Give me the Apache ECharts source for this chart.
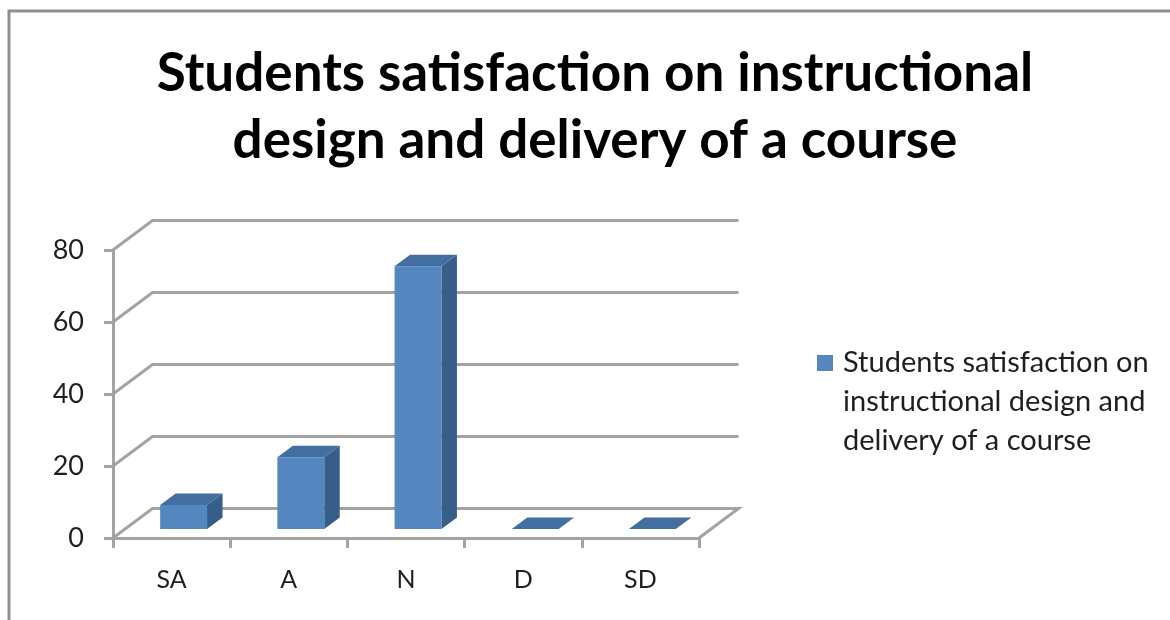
<!DOCTYPE html>
<html>
<head>
<meta charset="utf-8">
<style>html,body{margin:0;padding:0;background:#fff}#c{width:1170px;height:620px}</style>
<script src="https://cdn.jsdelivr.net/npm/echarts@6/dist/echarts.min.js"></script>
</head>
<body>
<div id="c"></div>
<script>
var categories = ['SA', 'A', 'N', 'D', 'SD'];
var values = [6.7, 19.9, 73, 0, 0];
var yTicks = [0, 20, 40, 60, 80];
var seriesName = 'Students satisfaction on instructional design and delivery of a course';
var legendLines = ['Students satisfaction on', 'instructional design and', 'delivery of a course'];
var titleLines = ['Students satisfaction on instructional', 'design and delivery of a course'];

var FONT = 'Lato';
var GRID_COLOR = '#a3a3a3';
var WALL_DX = 39.5, WALL_DY = -29.5;
var BAR_DX = 15.5, BAR_DY = -11.5, BAR_SHIFT_X = 12, BAR_SHIFT_Y = -9, BAR_RATIO = 0.4;

var chart = echarts.init(document.getElementById('c'), null, {renderer: 'canvas'});

function renderWall(params, api) {
  var v = api.value(1);
  var p = api.coord([0, v]);
  var band = api.size([1, 0])[0];
  var x0 = p[0] - band / 2, y = p[1];
  var x1 = x0 + band * categories.length;
  var style = {stroke: GRID_COLOR, lineWidth: 3, fill: null};
  var pts = [[x0, y], [x0 + WALL_DX, y + WALL_DY], [x1 + WALL_DX, y + WALL_DY]];
  if (v === 0) pts.push([x1, y]);
  return {type: 'polyline', shape: {points: pts}, style: style, silent: true};
}

function renderBar(params, api) {
  var i = api.value(0), v = api.value(1);
  var base = api.coord([i, 0]), top = api.coord([i, v]);
  var w = api.size([1, 0])[0] * BAR_RATIO;
  var l = base[0] + BAR_SHIFT_X - w / 2, r = l + w;
  var by = base[1] + BAR_SHIFT_Y, ty = top[1] + BAR_SHIFT_Y;
  return {
    type: 'group',
    children: [
      {type: 'polygon', shape: {points: [[r, ty], [r + BAR_DX, ty + BAR_DY], [r + BAR_DX, by + BAR_DY], [r, by]]},
        style: {fill: '#375e89'}},
      {type: 'polygon', shape: {points: [[l, ty], [l + BAR_DX, ty + BAR_DY], [r + BAR_DX, ty + BAR_DY], [r, ty]]},
        style: {fill: '#426f9f'}},
      {type: 'rect', shape: {x: l, y: ty, width: w, height: by - ty},
        style: {fill: '#5486c0'}}
    ]
  };
}

chart.setOption({
  animation: false,
  backgroundColor: '#ffffff',
  title: {
    text: titleLines.join('\n'),
    left: 590, top: 35, textAlign: 'center',
    textStyle: {fontFamily: FONT, fontWeight: 'bold', fontSize: 53, lineHeight: 67, color: '#000'}
  },
  legend: {
    data: [seriesName],
    left: 812, top: 338, orient: 'vertical',
    itemWidth: 16, itemHeight: 118, symbolKeepAspect: false,
    icon: 'path://M0 12H16V28H0Z M0 0H16V0H0Z M0 118H16V118H0Z',
    itemStyle: {color: '#5486c0'},
    formatter: function () { return legendLines.join('\n'); },
    textStyle: {fontFamily: FONT, fontSize: 29, lineHeight: 39, color: '#1f1f1f', padding: [0, 0, 0, 5]}
  },
  grid: {left: 113, top: 250, width: 586, height: 288, containLabel: false},
  xAxis: {
    type: 'category', data: categories, boundaryGap: true,
    axisLine: {onZero: false, lineStyle: {color: GRID_COLOR, width: 3}},
    axisTick: {show: true, alignWithLabel: false, length: 10, lineStyle: {color: GRID_COLOR, width: 3}},
    axisLabel: {fontFamily: FONT, fontSize: 25, color: '#1f1f1f', margin: 29},
    splitLine: {show: false}
  },
  yAxis: {
    type: 'value', min: 0, max: 80, interval: 20,
    axisLine: {show: true, lineStyle: {color: GRID_COLOR, width: 3}},
    axisTick: {show: true, length: 9, lineStyle: {color: GRID_COLOR, width: 3}},
    axisLabel: {fontFamily: FONT, fontSize: 27, color: '#1f1f1f', margin: 29, padding: [4, 0, 0, 0]},
    splitLine: {show: false}
  },
  graphic: [{
    type: 'polyline', z: 100, silent: true,
    shape: {points: [[9, 620], [9, 11], [1170, 11]]},
    style: {stroke: '#8f8f8f', lineWidth: 3, fill: null}
  }],
  series: [
    {
      name: 'walls', type: 'custom', coordinateSystem: 'cartesian2d', clip: false, silent: true, z: 1,
      renderItem: renderWall, encode: {x: 0, y: 1},
      data: yTicks.map(function (t) { return [0, t]; })
    },
    {
      name: seriesName, type: 'custom', coordinateSystem: 'cartesian2d', clip: false, z: 2,
      renderItem: renderBar, encode: {x: 0, y: 1},
      itemStyle: {color: '#5486c0'},
      data: values.map(function (v, i) { return [i, v]; })
    }
  ]
});
</script>
</body>
</html>
